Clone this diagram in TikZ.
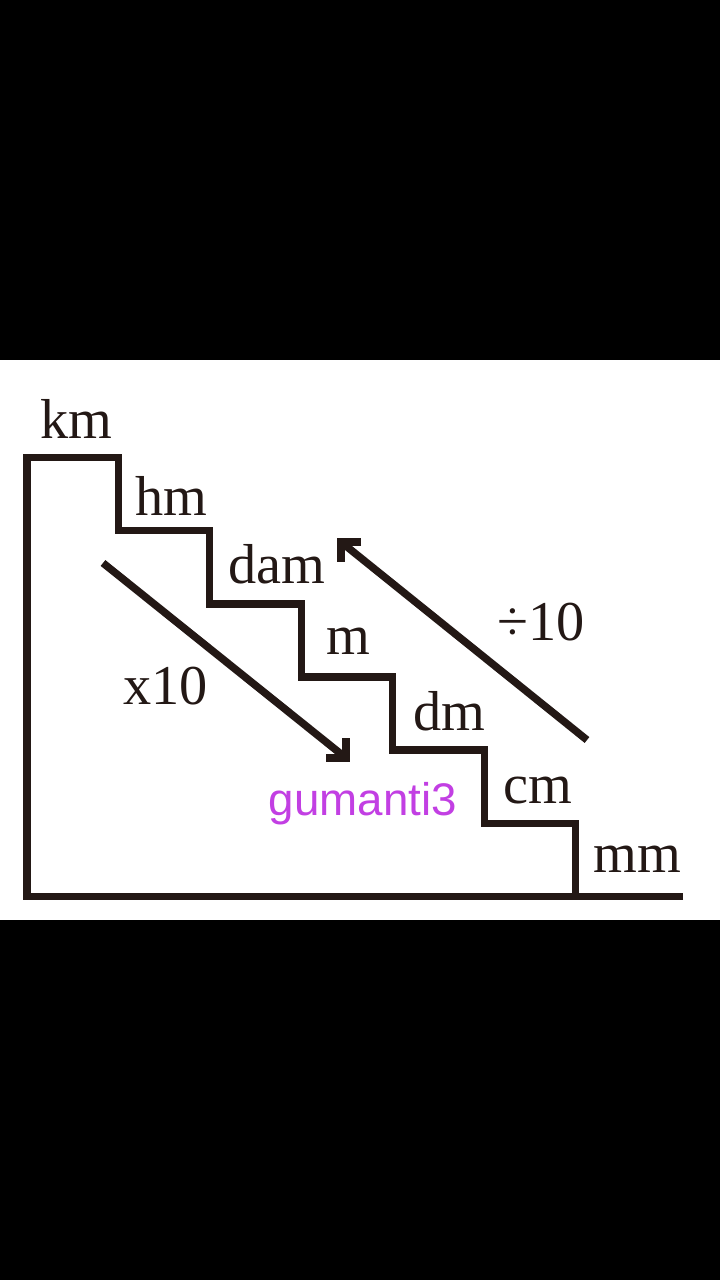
\documentclass[tikz,border=0pt]{standalone}
\usepackage{fontspec}
\setmainfont{Liberation Serif}
\newfontfamily\wmfont{Liberation Sans}
\usepackage{xcolor}
\usetikzlibrary{arrows.meta}
\definecolor{wmpurple}{HTML}{C23FE3}
\definecolor{ink}{HTML}{231815}

\begin{document}
\begin{tikzpicture}[
    x=0.01cm,y=-0.01cm,
    stair/.style = {draw=ink,line width=0.07cm,line join=miter},
    conv/.style  = {draw=ink,line width=0.075cm},
    tip/.style   = {draw=ink,line width=0.08cm,line join=miter},
    unit/.style  = {anchor=base west,inner sep=0pt,text=ink,font=\fontsize{16}{16}\selectfont},
  ]

  % page
  \fill[black] (0,0) rectangle (720,1280);
  \fill[white] (0,360) rectangle (720,920);

  % staircase
  \draw[stair] (683,896) -- (27,896) |- (118,458)
    \foreach \i in {1,...,5} { |- ++(91.5,73) } -- ++(0,73);

  % units
  \node[unit] (km)  at (40,439)  {km};
  \node[unit] (hm)  at (135,516) {hm};
  \node[unit] (dam) at (228,584) {dam};
  \node[unit] (m)   at (326,655) {m};
  \node[unit] (dm)  at (413,730) {dm};
  \node[unit] (cm)  at (503,803) {cm};
  \node[unit] (mm)  at (593,872) {mm};

  % conversion arrows
  \coordinate (mul-s) at (103,563);
  \coordinate (mul-e) at (346,758);
  \coordinate (div-s) at (587,740);
  \coordinate (div-e) at (341,542);
  \draw[conv] (mul-s) -- (mul-e);
  \draw[tip] (mul-e) ++(-20,0) -- (mul-e) -- ++(0,-20);
  \draw[conv] (div-s) -- (div-e);
  \draw[tip] (div-e) ++(20,0) -- (div-e) -- ++(0,20);
  \node[unit] (mul) at (123,705) {x10};
  \node[unit] (div) at (497,640) {÷10};

  \node[anchor=base west,inner sep=0pt,text=wmpurple,
        font=\wmfont\fontsize{13}{13}\selectfont] (wm) at (268,815) {gumanti3};

\end{tikzpicture}
\end{document}
